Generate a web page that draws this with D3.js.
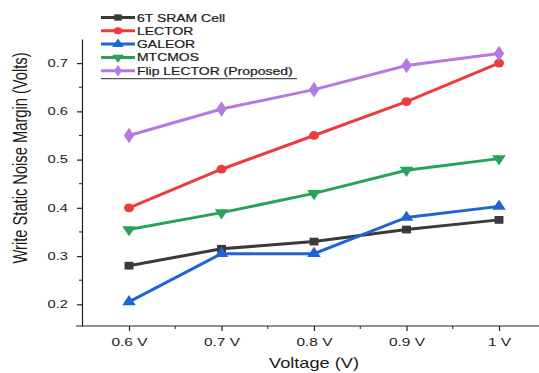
<!DOCTYPE html>
<html>
<head>
<meta charset="utf-8">
<script src="https://cdn.jsdelivr.net/npm/d3@7"></script>
<style>
  body { margin: 0; background: #fff; }
  svg { display: block; font-family: "Liberation Sans", Arial, sans-serif; }
  text { fill: #1a1a1a; }
  .legend text { stroke: #1a1a1a; stroke-width: 0.2; }
</style>
</head>
<body>
<svg id="chart" width="539" height="373"></svg>
<script>
// voltages on the x axis
const voltages = ["0.6 V", "0.7 V", "0.8 V", "0.9 V", "1 V"];

// write SNM values (V)
const sram6T = [0.28, 0.315, 0.33, 0.355, 0.375];
const lector = [0.40, 0.48, 0.55, 0.62, 0.70];
const galeor = [0.205, 0.305, 0.305, 0.38, 0.403];
const mtcmos = [0.355, 0.39, 0.43, 0.478, 0.502];
const flipLector = [0.55, 0.605, 0.645, 0.695, 0.72];

const yTicks = [0.2, 0.3, 0.4, 0.5, 0.6, 0.7];

const series = [
  { name: "6T SRAM Cell", values: sram6T, color: "#3a3a3a", symbol: d3.symbolSquare },
  { name: "LECTOR", values: lector, color: "#ef3b3b", symbol: d3.symbolCircle },
  { name: "GALEOR", values: galeor, color: "#1f63d6", symbol: "triUp" },
  { name: "MTCMOS", values: mtcmos, color: "#27a25a", symbol: "triDown" },
  { name: "Flip LECTOR (Proposed)", values: flipLector, color: "#b57ae0", symbol: d3.symbolDiamond }
];

const svg = d3.select("#chart");
const mLeft = 82, mBottom = 326, mTop = 39;
const sx = 1.4; // the original figure is stretched sideways

const x = d3.scalePoint().domain(voltages).range([129, 499]);
const step = x.step();
const y = d3.scaleLinear().domain([0.155, 0.75]).range([mBottom, mTop]);

// marker path
function marker(sym, size) {
  if (sym === "triUp" || sym === "triDown") return d3.symbol(d3.symbolTriangle, size)();
  return d3.symbol(sym, size)();
}

// axes
const yAxis = svg.append("g").attr("transform", `translate(${mLeft},0)`)
  .call(d3.axisLeft(y).tickValues(yTicks).tickSize(5).tickFormat(d3.format(".1f")).tickSizeOuter(0));
yAxis.select(".domain").attr("stroke", "#222").attr("stroke-width", 1.2);
yAxis.selectAll(".tick line").attr("stroke", "#222").attr("stroke-width", 1.2);
yAxis.selectAll(".tick text").attr("font-size", 10.5)
  .attr("x", -14 / sx).attr("transform", `scale(${sx},1)`);
// minor y ticks
svg.append("g").selectAll("line").data([0.25, 0.35, 0.45, 0.55, 0.65])
  .join("line")
  .attr("x1", mLeft - 3).attr("x2", mLeft)
  .attr("y1", d => y(d)).attr("y2", d => y(d))
  .attr("stroke", "#222").attr("stroke-width", 1);

svg.append("line").attr("x1", mLeft - 6).attr("x2", 545)
  .attr("y1", mBottom).attr("y2", mBottom).attr("stroke", "#222").attr("stroke-width", 1.2);
const xAxis = svg.append("g").attr("transform", `translate(0,${mBottom})`)
  .call(d3.axisBottom(x).tickSize(5).tickPadding(7).tickSizeOuter(0));
xAxis.select(".domain").remove();
xAxis.selectAll(".tick line").attr("stroke", "#222").attr("stroke-width", 1.2);
xAxis.selectAll(".tick text").attr("font-size", 11).attr("transform", `scale(${sx},1)`);
// minor x ticks
svg.append("g").selectAll("line").data(voltages)
  .join("line")
  .attr("x1", d => x(d) + step / 2).attr("x2", d => x(d) + step / 2)
  .attr("y1", mBottom).attr("y2", mBottom + 3)
  .attr("stroke", "#222").attr("stroke-width", 1);

// titles
svg.append("text").attr("transform", `translate(314,368) scale(1.3,1)`).attr("text-anchor", "middle")
  .attr("font-size", 14).text("Voltage (V)");
svg.append("text").attr("transform", `translate(26.5,158) scale(${sx},1) rotate(-90)`).attr("text-anchor", "middle")
  .attr("font-size", 14.7).text("Write Static Noise Margin (Volts)");

// lines
const line = d3.line().x((d, i) => x(voltages[i])).y(d => y(d));
series.forEach(s => {
  svg.append("path").datum(s.values)
    .attr("d", line).attr("fill", "none")
    .attr("stroke", s.color).attr("stroke-width", 3);
  svg.append("g").selectAll("path").data(s.values).join("path")
    .attr("d", marker(s.symbol, s.symbol === d3.symbolDiamond ? 70 : 60))
    .attr("transform", (d, i) => `translate(${x(voltages[i])},${y(d)}) scale(1.15,1)` + (s.symbol === "triDown" ? " rotate(180)" : ""))
    .attr("fill", s.color);
});

// legend
const lg = svg.append("g").attr("class", "legend").attr("transform", "translate(101,17.5)");
const rowH = 13.3;
series.forEach((s, i) => {
  const g = lg.append("g").attr("transform", `translate(0,${i * rowH})`);
  g.append("line").attr("x1", 0).attr("x2", 34).attr("stroke", s.color).attr("stroke-width", 3);
  g.append("path").attr("d", marker(s.symbol, 40))
    .attr("transform", `translate(17,0) scale(1.2,1)` + (s.symbol === "triDown" ? " rotate(180)" : ""))
    .attr("fill", s.color);
  g.append("text").attr("transform", "translate(36,4) scale(1.33,1)")
    .attr("font-size", 10.5).text(s.name);
});
lg.append("line").attr("x1", 0).attr("x2", 196).attr("y1", 4 * rowH + 8).attr("y2", 4 * rowH + 8)
  .attr("stroke", "#555").attr("stroke-width", 1.2);
</script>
</body>
</html>
